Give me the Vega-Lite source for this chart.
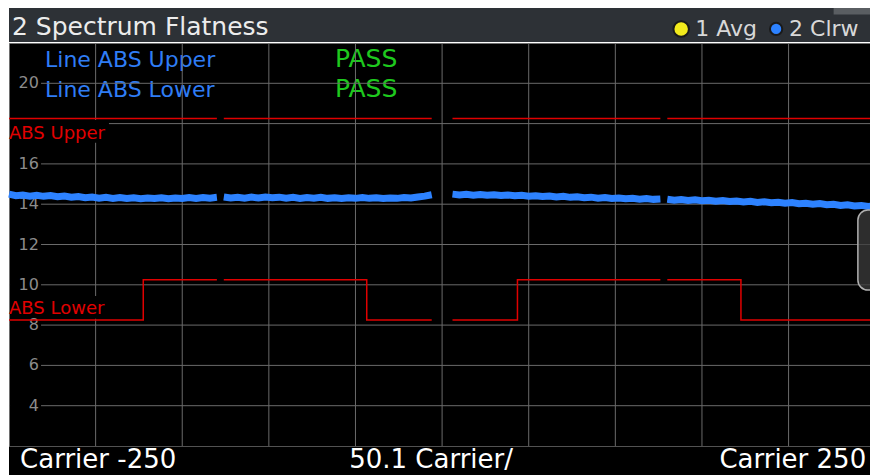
{
  "$schema": "https://vega.github.io/schema/vega-lite/v6.json",
  "width": 861,
  "height": 403,
  "autosize": {"type": "none"},
  "padding": {"left": 9, "top": 43, "right": 0, "bottom": 29},
  "background": "#ffffff",
  "config": {
    "view": {"fill": "#000000", "stroke": "#6e6e6e", "strokeWidth": 1},
    "font": "DejaVu Sans",
    "axis": {"disable": true}
  },
  "data": {"values": [{"panel": "2 Spectrum Flatness"}]},
  "datasets": {
    "xgrid": [{"k": -200}, {"k": -150}, {"k": -100}, {"k": -50}, {"k": 0}, {"k": 50}, {"k": 100}, {"k": 150}, {"k": 200}],
    "ygrid": [{"v": 4}, {"v": 6}, {"v": 8}, {"v": 10}, {"v": 12}, {"v": 14}, {"v": 16}, {"v": 18}, {"v": 20}],
    "ylabels": [{"v": 4}, {"v": 6}, {"v": 8}, {"v": 10}, {"v": 12}, {"v": 14}, {"v": 16}, {"v": 20}],
    "upper": [
      {"seg": 1, "i": 1, "k": -250, "v": 18.25}, {"seg": 1, "i": 2, "k": -130, "v": 18.25},
      {"seg": 2, "i": 1, "k": -126, "v": 18.25}, {"seg": 2, "i": 2, "k": -6, "v": 18.25},
      {"seg": 3, "i": 1, "k": 6, "v": 18.25}, {"seg": 3, "i": 2, "k": 126, "v": 18.25},
      {"seg": 4, "i": 1, "k": 130, "v": 18.25}, {"seg": 4, "i": 2, "k": 250, "v": 18.25}
    ],
    "lower": [
      {"seg": 1, "i": 1, "k": -250, "v": 8.25}, {"seg": 1, "i": 2, "k": -172.5, "v": 8.25}, {"seg": 1, "i": 3, "k": -172.5, "v": 10.25}, {"seg": 1, "i": 4, "k": -130, "v": 10.25},
      {"seg": 2, "i": 1, "k": -126, "v": 10.25}, {"seg": 2, "i": 2, "k": -43.5, "v": 10.25}, {"seg": 2, "i": 3, "k": -43.5, "v": 8.25}, {"seg": 2, "i": 4, "k": -6, "v": 8.25},
      {"seg": 3, "i": 1, "k": 6, "v": 8.25}, {"seg": 3, "i": 2, "k": 43.5, "v": 8.25}, {"seg": 3, "i": 3, "k": 43.5, "v": 10.25}, {"seg": 3, "i": 4, "k": 126, "v": 10.25},
      {"seg": 4, "i": 1, "k": 130, "v": 10.25}, {"seg": 4, "i": 2, "k": 172.5, "v": 10.25}, {"seg": 4, "i": 3, "k": 172.5, "v": 8.25}, {"seg": 4, "i": 4, "k": 250, "v": 8.25}
    ],
    "trace": [
      {"seg": 1, "k": -250, "v": 14.50}, {"seg": 1, "k": -246, "v": 14.42}, {"seg": 1, "k": -242, "v": 14.45}, {"seg": 1, "k": -238, "v": 14.40},
      {"seg": 1, "k": -234, "v": 14.44}, {"seg": 1, "k": -230, "v": 14.39}, {"seg": 1, "k": -226, "v": 14.43}, {"seg": 1, "k": -222, "v": 14.37},
      {"seg": 1, "k": -218, "v": 14.41}, {"seg": 1, "k": -214, "v": 14.35}, {"seg": 1, "k": -210, "v": 14.38}, {"seg": 1, "k": -206, "v": 14.32},
      {"seg": 1, "k": -202, "v": 14.36}, {"seg": 1, "k": -198, "v": 14.30}, {"seg": 1, "k": -194, "v": 14.34}, {"seg": 1, "k": -190, "v": 14.29},
      {"seg": 1, "k": -186, "v": 14.33}, {"seg": 1, "k": -182, "v": 14.28}, {"seg": 1, "k": -178, "v": 14.32}, {"seg": 1, "k": -174, "v": 14.27},
      {"seg": 1, "k": -170, "v": 14.31}, {"seg": 1, "k": -166, "v": 14.28}, {"seg": 1, "k": -162, "v": 14.32}, {"seg": 1, "k": -158, "v": 14.27},
      {"seg": 1, "k": -154, "v": 14.31}, {"seg": 1, "k": -150, "v": 14.28}, {"seg": 1, "k": -146, "v": 14.33}, {"seg": 1, "k": -142, "v": 14.29},
      {"seg": 1, "k": -138, "v": 14.33}, {"seg": 1, "k": -134, "v": 14.30}, {"seg": 1, "k": -130, "v": 14.34},
      {"seg": 2, "k": -126, "v": 14.36}, {"seg": 2, "k": -122, "v": 14.31}, {"seg": 2, "k": -118, "v": 14.34}, {"seg": 2, "k": -114, "v": 14.30},
      {"seg": 2, "k": -110, "v": 14.35}, {"seg": 2, "k": -106, "v": 14.31}, {"seg": 2, "k": -102, "v": 14.36}, {"seg": 2, "k": -98, "v": 14.32},
      {"seg": 2, "k": -94, "v": 14.35}, {"seg": 2, "k": -90, "v": 14.30}, {"seg": 2, "k": -86, "v": 14.34}, {"seg": 2, "k": -82, "v": 14.29},
      {"seg": 2, "k": -78, "v": 14.33}, {"seg": 2, "k": -74, "v": 14.30}, {"seg": 2, "k": -70, "v": 14.34}, {"seg": 2, "k": -66, "v": 14.29},
      {"seg": 2, "k": -62, "v": 14.32}, {"seg": 2, "k": -58, "v": 14.28}, {"seg": 2, "k": -54, "v": 14.32}, {"seg": 2, "k": -50, "v": 14.29},
      {"seg": 2, "k": -46, "v": 14.33}, {"seg": 2, "k": -42, "v": 14.29}, {"seg": 2, "k": -38, "v": 14.32}, {"seg": 2, "k": -34, "v": 14.28},
      {"seg": 2, "k": -30, "v": 14.31}, {"seg": 2, "k": -26, "v": 14.29}, {"seg": 2, "k": -22, "v": 14.33}, {"seg": 2, "k": -18, "v": 14.31},
      {"seg": 2, "k": -14, "v": 14.36}, {"seg": 2, "k": -10, "v": 14.40}, {"seg": 2, "k": -6, "v": 14.47},
      {"seg": 3, "k": 6, "v": 14.50}, {"seg": 3, "k": 10, "v": 14.46}, {"seg": 3, "k": 14, "v": 14.49}, {"seg": 3, "k": 18, "v": 14.45},
      {"seg": 3, "k": 22, "v": 14.48}, {"seg": 3, "k": 26, "v": 14.44}, {"seg": 3, "k": 30, "v": 14.47}, {"seg": 3, "k": 34, "v": 14.43},
      {"seg": 3, "k": 38, "v": 14.46}, {"seg": 3, "k": 42, "v": 14.42}, {"seg": 3, "k": 46, "v": 14.44}, {"seg": 3, "k": 50, "v": 14.40},
      {"seg": 3, "k": 54, "v": 14.42}, {"seg": 3, "k": 58, "v": 14.38}, {"seg": 3, "k": 62, "v": 14.41}, {"seg": 3, "k": 66, "v": 14.36},
      {"seg": 3, "k": 70, "v": 14.39}, {"seg": 3, "k": 74, "v": 14.34}, {"seg": 3, "k": 78, "v": 14.37}, {"seg": 3, "k": 82, "v": 14.32},
      {"seg": 3, "k": 86, "v": 14.35}, {"seg": 3, "k": 90, "v": 14.30}, {"seg": 3, "k": 94, "v": 14.33}, {"seg": 3, "k": 98, "v": 14.28},
      {"seg": 3, "k": 102, "v": 14.31}, {"seg": 3, "k": 106, "v": 14.27}, {"seg": 3, "k": 110, "v": 14.29}, {"seg": 3, "k": 114, "v": 14.25},
      {"seg": 3, "k": 118, "v": 14.28}, {"seg": 3, "k": 122, "v": 14.24}, {"seg": 3, "k": 126, "v": 14.26},
      {"seg": 4, "k": 130, "v": 14.25}, {"seg": 4, "k": 134, "v": 14.20}, {"seg": 4, "k": 138, "v": 14.23}, {"seg": 4, "k": 142, "v": 14.19},
      {"seg": 4, "k": 146, "v": 14.22}, {"seg": 4, "k": 150, "v": 14.17}, {"seg": 4, "k": 154, "v": 14.20}, {"seg": 4, "k": 158, "v": 14.15},
      {"seg": 4, "k": 162, "v": 14.18}, {"seg": 4, "k": 166, "v": 14.13}, {"seg": 4, "k": 170, "v": 14.16}, {"seg": 4, "k": 174, "v": 14.11},
      {"seg": 4, "k": 178, "v": 14.14}, {"seg": 4, "k": 182, "v": 14.09}, {"seg": 4, "k": 186, "v": 14.12}, {"seg": 4, "k": 190, "v": 14.07},
      {"seg": 4, "k": 194, "v": 14.10}, {"seg": 4, "k": 198, "v": 14.05}, {"seg": 4, "k": 202, "v": 14.08}, {"seg": 4, "k": 206, "v": 14.02},
      {"seg": 4, "k": 210, "v": 14.05}, {"seg": 4, "k": 214, "v": 14.00}, {"seg": 4, "k": 218, "v": 14.03}, {"seg": 4, "k": 222, "v": 13.97},
      {"seg": 4, "k": 226, "v": 14.00}, {"seg": 4, "k": 230, "v": 13.94}, {"seg": 4, "k": 234, "v": 13.97}, {"seg": 4, "k": 238, "v": 13.91},
      {"seg": 4, "k": 242, "v": 13.94}, {"seg": 4, "k": 246, "v": 13.89}, {"seg": 4, "k": 250, "v": 13.90}
    ]
  },
  "layer": [
    {
      "mark": {"type": "rect", "fill": "#2d3136"},
      "encoding": {
        "x": {"datum": -250, "type": "quantitative", "scale": {"domain": [-250, 247], "nice": false, "zero": false}, "axis": null},
        "x2": {"datum": 247},
        "y": {"datum": 22.05, "type": "quantitative", "scale": {"domain": [2, 22], "nice": false, "zero": false}, "axis": null},
        "y2": {"datum": 23.74}
      }
    },
    {
      "mark": {"type": "rect", "fill": "#5a5e62"},
      "encoding": {
        "x": {"datum": 226, "type": "quantitative"},
        "x2": {"datum": 247},
        "y": {"datum": 23.74, "type": "quantitative"},
        "y2": {"datum": 23.42}
      }
    },
    {
      "mark": {"type": "rect", "fill": "#000000"},
      "encoding": {
        "x": {"datum": -250, "type": "quantitative"},
        "x2": {"datum": 247},
        "y": {"datum": 1.96, "type": "quantitative"},
        "y2": {"datum": 0.4}
      }
    },
    {
      "mark": {"type": "text", "text": "Line ABS Upper", "align": "left", "baseline": "alphabetic", "fontSize": 22, "color": "#2f7df5"},
      "encoding": {"x": {"datum": -229.2, "type": "quantitative"}, "y": {"datum": 20.82, "type": "quantitative"}}
    },
    {
      "mark": {"type": "text", "text": "Line ABS Lower", "align": "left", "baseline": "alphabetic", "fontSize": 22, "color": "#2f7df5"},
      "encoding": {"x": {"datum": -229.2, "type": "quantitative"}, "y": {"datum": 19.335, "type": "quantitative"}}
    },
    {
      "mark": {"type": "text", "text": "PASS", "align": "left", "baseline": "alphabetic", "fontSize": 25, "color": "#1ec81e"},
      "encoding": {"x": {"datum": -61.8, "type": "quantitative"}, "y": {"datum": 20.82, "type": "quantitative"}}
    },
    {
      "mark": {"type": "text", "text": "PASS", "align": "left", "baseline": "alphabetic", "fontSize": 25, "color": "#1ec81e"},
      "encoding": {"x": {"datum": -61.8, "type": "quantitative"}, "y": {"datum": 19.335, "type": "quantitative"}}
    },
    {
      "data": {"name": "xgrid"},
      "mark": {"type": "rule", "color": "#6a6a6a", "strokeWidth": 1},
      "encoding": {"x": {"field": "k", "type": "quantitative"}}
    },
    {
      "data": {"name": "ygrid"},
      "mark": {"type": "rule", "color": "#6a6a6a", "strokeWidth": 1},
      "encoding": {"y": {"field": "v", "type": "quantitative"}}
    },
    {
      "mark": {"type": "rect", "fill": "#000000"},
      "encoding": {
        "x": {"datum": -249.4, "type": "quantitative"},
        "x2": {"datum": -231.5},
        "y": {"datum": 2.3, "type": "quantitative"},
        "y2": {"datum": 21.7}
      }
    },
    {
      "mark": {"type": "rect", "fill": "#000000"},
      "encoding": {
        "x": {"datum": -249.4, "type": "quantitative"},
        "x2": {"datum": -192.3},
        "y": {"datum": 17.05, "type": "quantitative"},
        "y2": {"datum": 18.18}
      }
    },
    {
      "mark": {"type": "rect", "fill": "#000000"},
      "encoding": {
        "x": {"datum": -249.4, "type": "quantitative"},
        "x2": {"datum": -192.3},
        "y": {"datum": 8.32, "type": "quantitative"},
        "y2": {"datum": 9.45}
      }
    },
    {
      "data": {"name": "ylabels"},
      "mark": {"type": "text", "align": "right", "baseline": "middle", "fontSize": 16, "color": "#8c8c8c"},
      "encoding": {
        "x": {"datum": -232.7, "type": "quantitative"},
        "y": {"field": "v", "type": "quantitative"},
        "text": {"field": "v", "type": "quantitative"}
      }
    },
    {
      "mark": {"type": "text", "text": "ABS Upper", "align": "left", "baseline": "alphabetic", "fontSize": 18, "color": "#e00000"},
      "encoding": {"x": {"datum": -250, "type": "quantitative"}, "y": {"datum": 17.24, "type": "quantitative"}}
    },
    {
      "mark": {"type": "text", "text": "ABS Lower", "align": "left", "baseline": "alphabetic", "fontSize": 18, "color": "#e00000"},
      "encoding": {"x": {"datum": -250, "type": "quantitative"}, "y": {"datum": 8.55, "type": "quantitative"}}
    },
    {
      "data": {"name": "upper"},
      "mark": {"type": "line", "color": "#e00000", "strokeWidth": 1.5},
      "encoding": {
        "x": {"field": "k", "type": "quantitative"},
        "y": {"field": "v", "type": "quantitative"},
        "detail": {"field": "seg", "type": "nominal"},
        "order": {"field": "i", "type": "quantitative"}
      }
    },
    {
      "data": {"name": "lower"},
      "mark": {"type": "line", "color": "#e00000", "strokeWidth": 1.5},
      "encoding": {
        "x": {"field": "k", "type": "quantitative"},
        "y": {"field": "v", "type": "quantitative"},
        "detail": {"field": "seg", "type": "nominal"},
        "order": {"field": "i", "type": "quantitative"}
      }
    },
    {
      "data": {"name": "trace"},
      "mark": {"type": "line", "color": "#2d82ff", "strokeWidth": 7, "strokeJoin": "miter", "strokeCap": "butt"},
      "encoding": {
        "x": {"field": "k", "type": "quantitative"},
        "y": {"field": "v", "type": "quantitative"},
        "detail": {"field": "seg", "type": "nominal"}
      }
    },
    {
      "mark": {"type": "rect", "fill": "#3c3c3c", "fillOpacity": 0.75, "stroke": "#b0b0b0", "strokeWidth": 1.5, "cornerRadius": 10},
      "encoding": {
        "x": {"datum": 240, "type": "quantitative"},
        "x2": {"datum": 256},
        "y": {"datum": 13.71, "type": "quantitative"},
        "y2": {"datum": 9.74}
      }
    },
    {
      "mark": {"type": "text", "align": "left", "baseline": "alphabetic", "fontSize": 25, "color": "#ececec"},
      "encoding": {"x": {"datum": -248.3, "type": "quantitative"}, "y": {"datum": 22.4, "type": "quantitative"}, "text": {"field": "panel", "type": "nominal"}}
    },
    {
      "mark": {"type": "point", "shape": "circle", "filled": true, "fill": "#f2ea1c", "stroke": "#1a1a1a", "strokeWidth": 2, "size": 240, "opacity": 1},
      "encoding": {"x": {"datum": 138.0, "type": "quantitative"}, "y": {"datum": 22.695, "type": "quantitative"}}
    },
    {
      "mark": {"type": "point", "shape": "circle", "filled": true, "fill": "#2d82ff", "stroke": "#1a1a1a", "strokeWidth": 2, "size": 150, "opacity": 1},
      "encoding": {"x": {"datum": 192.8, "type": "quantitative"}, "y": {"datum": 22.695, "type": "quantitative"}}
    },
    {
      "mark": {"type": "text", "text": "1 Avg", "align": "left", "baseline": "alphabetic", "fontSize": 22, "color": "#d8d8d8"},
      "encoding": {"x": {"datum": 146.1, "type": "quantitative"}, "y": {"datum": 22.35, "type": "quantitative"}}
    },
    {
      "mark": {"type": "text", "text": "2 Clrw", "align": "left", "baseline": "alphabetic", "fontSize": 22, "color": "#d8d8d8"},
      "encoding": {"x": {"datum": 200.3, "type": "quantitative"}, "y": {"datum": 22.35, "type": "quantitative"}}
    },
    {
      "mark": {"type": "text", "text": "Carrier -250", "align": "left", "baseline": "alphabetic", "fontSize": 26, "color": "#ffffff"},
      "encoding": {"x": {"datum": -243.6, "type": "quantitative"}, "y": {"datum": 0.91, "type": "quantitative"}}
    },
    {
      "mark": {"type": "text", "text": "50.1 Carrier/", "align": "center", "baseline": "alphabetic", "fontSize": 26, "color": "#ffffff"},
      "encoding": {"x": {"datum": -6.35, "type": "quantitative"}, "y": {"datum": 0.91, "type": "quantitative"}}
    },
    {
      "mark": {"type": "text", "text": "Carrier 250", "align": "right", "baseline": "alphabetic", "fontSize": 26, "color": "#ffffff"},
      "encoding": {"x": {"datum": 244.8, "type": "quantitative"}, "y": {"datum": 0.91, "type": "quantitative"}}
    }
  ]
}
